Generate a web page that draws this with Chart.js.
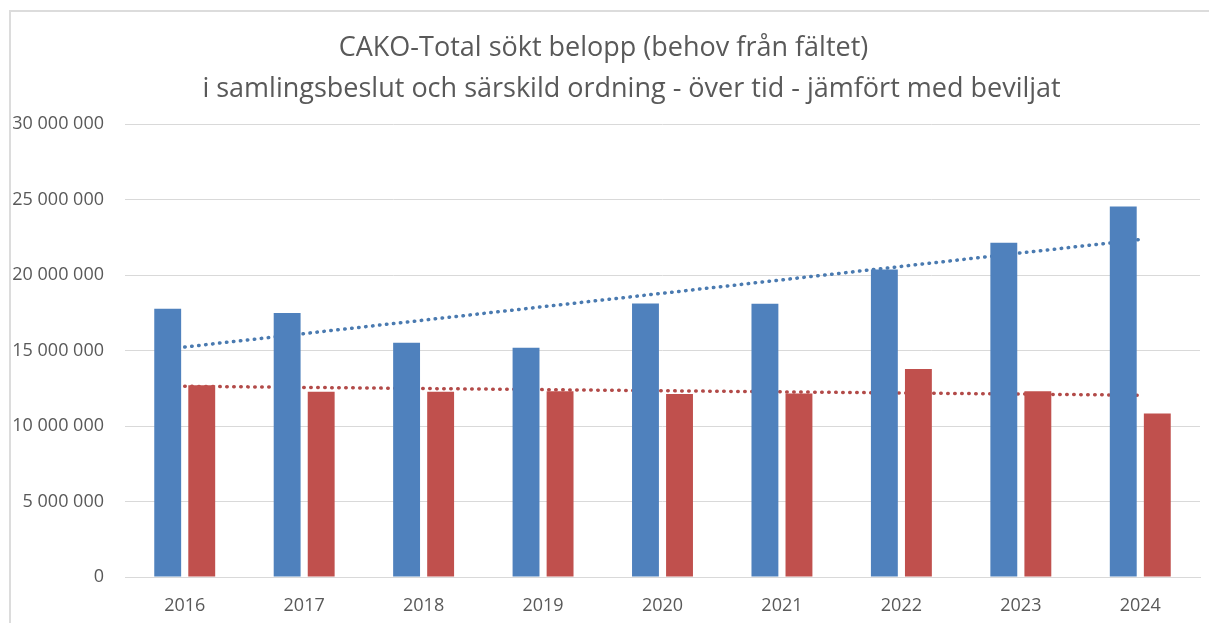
<!DOCTYPE html>
<html>
<head>
<meta charset="utf-8">
<script src="https://cdn.jsdelivr.net/npm/chart.js@4/dist/chart.umd.min.js"></script>
<style>
  html, body { margin: 0; padding: 0; background: #fff; }
  #wrap { position: relative; width: 1209px; height: 623px; }
  #frame {
    position: absolute; left: 9px; top: 10px; right: 0; bottom: 0;
    border-left: 2px solid #dcdcdc; border-top: 2px solid #dcdcdc;
    pointer-events: none;
  }
</style>
</head>
<body>
<div id="wrap">
  <canvas id="chart" width="1209" height="623"></canvas>
  <div id="frame"></div>
</div>
<script>
// ── Data ────────────────────────────────────────────────
const years = ["2016", "2017", "2018", "2019", "2020", "2021", "2022", "2023", "2024"];
const soktBelopp = [17770000, 17480000, 15520000, 15190000, 18120000, 18100000, 20370000, 22140000, 24540000];
const beviljat = [12700000, 12260000, 12260000, 12300000, 12120000, 12150000, 13780000, 12300000, 10830000];
// trend lines: only the end points are read, the line spans between them
const soktTrend = [15230000, null, null, null, null, null, null, null, 22350000];
const beviljatTrend = [12630000, null, null, null, null, null, null, null, 12040000];
const yTicks = [0, 5000000, 10000000, 15000000, 20000000, 25000000, 30000000];

// leading spaces nudge each centred line to where it sits in the original
const titleLines = [
  " CAKO-Total sökt belopp (behov från fältet)",
  "         i samlingsbeslut och särskild ordning - över tid - jämfört med beviljat",
];

const GREY = "#595959";
const FONT = "'Open Sans', 'Noto Sans', sans-serif";

const fmt = (v) => String(v).replace(/\B(?=(\d{3})+(?!\d))/g, " ");

new Chart(document.getElementById("chart"), {
  type: "bar",
  data: {
    labels: years,
    datasets: [
      {
        label: "Sökt belopp",
        data: soktBelopp,
        backgroundColor: "#4f81bd",
        order: 1,
      },
      {
        label: "Beviljat",
        data: beviljat,
        backgroundColor: "#c0504d",
        order: 1,
      },
      {
        type: "line",
        label: "Linjär (Sökt belopp)",
        data: soktTrend,
        spanGaps: true,
        borderColor: "#4a7ab0",
        borderWidth: 3.5,
        borderDash: [0.5, 6.5],
        borderCapStyle: "round",
        pointRadius: 0,
        fill: false,
        order: 2,
      },
      {
        type: "line",
        label: "Linjär (Beviljat)",
        data: beviljatTrend,
        spanGaps: true,
        borderColor: "#b24a48",
        borderWidth: 3.5,
        borderDash: [0.5, 6.5],
        borderCapStyle: "round",
        pointRadius: 0,
        fill: false,
        order: 2,
      },
    ],
  },
  options: {
    responsive: false,
    animation: false,
    layout: { padding: { left: 0, right: 9, top: 0, bottom: 0 } },
    datasets: {
      bar: { categoryPercentage: 0.57, barPercentage: 0.79 },
    },
    plugins: {
      legend: { display: false },
      tooltip: { enabled: false },
      title: {
        display: true,
        text: titleLines,
        color: GREY,
        font: { family: FONT, size: 27, weight: "normal", lineHeight: 41 / 27 },
        padding: { top: 28, bottom: 14 },
      },
    },
    scales: {
      x: {
        grid: { display: false },
        border: { display: true, color: "#d9d9d9", width: 1 },
        ticks: {
          color: GREY,
          font: { family: FONT, size: 18 },
          padding: 10,
        },
        afterFit: (s) => { s.height = 46; },
      },
      y: {
        min: 0,
        max: 30000000,
        afterBuildTicks: (s) => { s.ticks = yTicks.map((v) => ({ value: v })); },
        grid: { color: "#d9d9d9", lineWidth: 1, drawTicks: false },
        border: { display: false },
        ticks: {
          color: GREY,
          font: { family: FONT, size: 18 },
          padding: 21,
          callback: (v) => fmt(v),
        },
        afterFit: (s) => { s.width = 125; },
      },
    },
  },
});
</script>
</body>
</html>
